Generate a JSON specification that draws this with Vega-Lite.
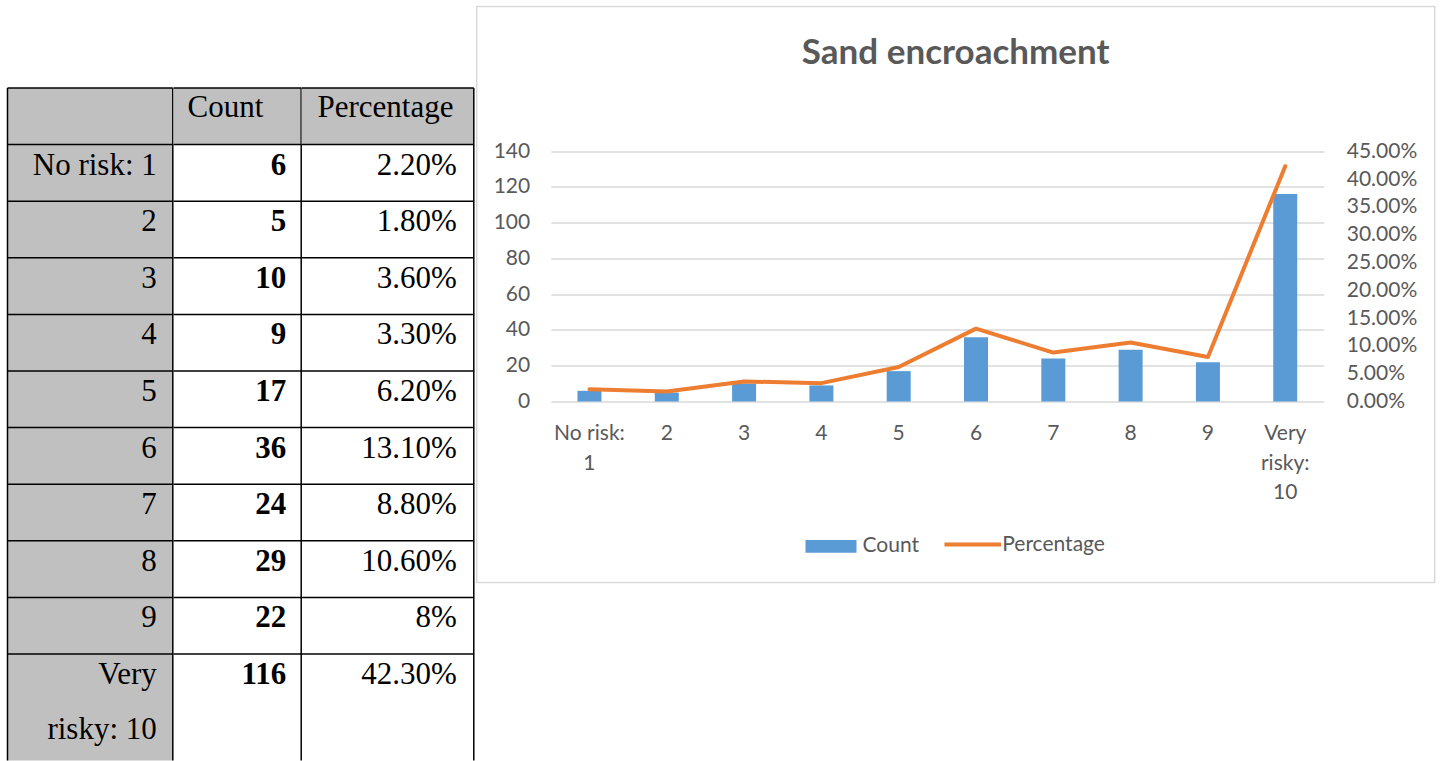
{
  "$schema": "https://vega.github.io/schema/vega-lite/v6.json",
  "padding": {"left": 6.5, "top": 5.5, "right": 0, "bottom": 0},
  "config": {"view": {"stroke": null}},
  "datasets": {
    "rows": [
      {"level": "No risk: 1", "count": 6, "pct": 2.2, "pctText": "2.20%"},
      {"level": "2", "count": 5, "pct": 1.8, "pctText": "1.80%"},
      {"level": "3", "count": 10, "pct": 3.6, "pctText": "3.60%"},
      {"level": "4", "count": 9, "pct": 3.3, "pctText": "3.30%"},
      {"level": "5", "count": 17, "pct": 6.2, "pctText": "6.20%"},
      {"level": "6", "count": 36, "pct": 13.1, "pctText": "13.10%"},
      {"level": "7", "count": 24, "pct": 8.8, "pctText": "8.80%"},
      {"level": "8", "count": 29, "pct": 10.6, "pctText": "10.60%"},
      {"level": "9", "count": 22, "pct": 8.0, "pctText": "8%"},
      {"level": "Very risky: 10", "count": 116, "pct": 42.3, "pctText": "42.30%"}
    ],
    "one": [{}]
  },
  "spacing": 0.2,
  "bounds": "full",
  "hconcat": [
    {
      "spacing": 0,
      "bounds": "flush",
      "hconcat": [
        {
          "width": 165.3,
          "height": 754,
          "view": {"stroke": null},
          "data": {"name": "rows"},
          "layer": [
            {
              "data": {"name": "one"},
              "mark": {"type": "rect", "color": "#c0c0c0"},
              "encoding": {
                "x": {"value": 0},
                "x2": {"value": "width"},
                "y": {"datum": "header", "type": "nominal", "bandPosition": 0,
                  "scale": {"type": "band", "domain": ["_top", "header", "No risk: 1", "2", "3", "4", "5", "6", "7", "8", "9", "Very risky: 10"], "paddingInner": 0, "paddingOuter": 0.661, "align": 0.3329},
                  "axis": null},
                "y2": {"value": "height"}
              }
            },
            {
              "mark": {"type": "rule", "color": "black", "strokeWidth": 1.5},
              "encoding": {"y": {"field": "level", "type": "nominal", "bandPosition": 0, "axis": null}}
            },
            {
              "data": {"name": "one"},
              "mark": {"type": "rule", "color": "black", "strokeWidth": 1.5},
              "encoding": {"y": {"datum": "header", "type": "nominal", "bandPosition": 0, "axis": null}}
            },
            {
              "data": {"name": "one"},
              "mark": {"type": "rule", "color": "black", "strokeWidth": 1.5},
              "encoding": {
                "x": {"value": 0},
                "y": {"datum": "header", "type": "nominal", "bandPosition": 0, "axis": null},
                "y2": {"value": "height"}
              }
            },
            {
              "data": {"name": "one"},
              "mark": {"type": "rule", "color": "black", "strokeWidth": 1.5},
              "encoding": {
                "x": {"value": "width"},
                "y": {"datum": "header", "type": "nominal", "bandPosition": 0, "axis": null},
                "y2": {"value": "height"}
              }
            },
            {
              "mark": {"type": "text", "font": "Liberation Serif", "fontSize": 31, "color": "black", "align": "right", "baseline": "alphabetic", "dx": -16, "dy": 30, "lineHeight": 55},
              "encoding": {
                "x": {"value": "width"},
                "y": {"field": "level", "type": "nominal", "bandPosition": 0, "axis": null},
                "text": {"condition": {"test": "datum.level == 'Very risky: 10'", "value": ["Very", "risky: 10"]}, "field": "level"}
              }
            }
          ]
        },
        {
          "width": 127.7,
          "height": 754,
          "view": {"stroke": null},
          "data": {"name": "rows"},
          "layer": [
            {
              "data": {"name": "one"},
              "mark": {"type": "rect", "color": "#c0c0c0"},
              "encoding": {
                "x": {"value": 0},
                "x2": {"value": "width"},
                "y": {"datum": "header", "type": "nominal",
                  "scale": {"type": "band", "domain": ["_top", "header", "No risk: 1", "2", "3", "4", "5", "6", "7", "8", "9", "Very risky: 10"], "paddingInner": 0, "paddingOuter": 0.661, "align": 0.3329},
                  "axis": null}
              }
            },
            {
              "mark": {"type": "rule", "color": "black", "strokeWidth": 1.5},
              "encoding": {"y": {"field": "level", "type": "nominal", "bandPosition": 0, "axis": null}}
            },
            {
              "data": {"name": "one"},
              "mark": {"type": "rule", "color": "black", "strokeWidth": 1.5},
              "encoding": {"y": {"datum": "header", "type": "nominal", "bandPosition": 0, "axis": null}}
            },
            {
              "data": {"name": "one"},
              "mark": {"type": "rule", "color": "black", "strokeWidth": 1.5},
              "encoding": {
                "x": {"value": "width"},
                "y": {"datum": "header", "type": "nominal", "bandPosition": 0, "axis": null},
                "y2": {"value": "height"}
              }
            },
            {
              "data": {"name": "one"},
              "mark": {"type": "text", "font": "Liberation Serif", "fontSize": 31, "color": "black", "align": "left", "baseline": "alphabetic", "dx": 14, "dy": 29},
              "encoding": {
                "x": {"value": 0},
                "y": {"datum": "header", "type": "nominal", "bandPosition": 0, "axis": null},
                "text": {"value": "Count"}
              }
            },
            {
              "mark": {"type": "text", "font": "Liberation Serif", "fontSize": 31, "fontWeight": "bold", "color": "black", "align": "right", "baseline": "alphabetic", "dx": -15, "dy": 30},
              "encoding": {
                "x": {"value": "width"},
                "y": {"field": "level", "type": "nominal", "bandPosition": 0, "axis": null},
                "text": {"field": "count", "type": "quantitative"}
              }
            }
          ]
        },
        {
          "width": 172.3,
          "height": 754,
          "view": {"stroke": null},
          "data": {"name": "rows"},
          "layer": [
            {
              "data": {"name": "one"},
              "mark": {"type": "rect", "color": "#c0c0c0"},
              "encoding": {
                "x": {"value": 0},
                "x2": {"value": "width"},
                "y": {"datum": "header", "type": "nominal",
                  "scale": {"type": "band", "domain": ["_top", "header", "No risk: 1", "2", "3", "4", "5", "6", "7", "8", "9", "Very risky: 10"], "paddingInner": 0, "paddingOuter": 0.661, "align": 0.3329},
                  "axis": null}
              }
            },
            {
              "mark": {"type": "rule", "color": "black", "strokeWidth": 1.5},
              "encoding": {"y": {"field": "level", "type": "nominal", "bandPosition": 0, "axis": null}}
            },
            {
              "data": {"name": "one"},
              "mark": {"type": "rule", "color": "black", "strokeWidth": 1.5},
              "encoding": {"y": {"datum": "header", "type": "nominal", "bandPosition": 0, "axis": null}}
            },
            {
              "data": {"name": "one"},
              "mark": {"type": "rule", "color": "black", "strokeWidth": 1.5},
              "encoding": {
                "x": {"value": "width"},
                "y": {"datum": "header", "type": "nominal", "bandPosition": 0, "axis": null},
                "y2": {"value": "height"}
              }
            },
            {
              "data": {"name": "one"},
              "mark": {"type": "text", "font": "Liberation Serif", "fontSize": 31, "color": "black", "align": "left", "baseline": "alphabetic", "dx": 16, "dy": 29},
              "encoding": {
                "x": {"value": 0},
                "y": {"datum": "header", "type": "nominal", "bandPosition": 0, "axis": null},
                "text": {"value": "Percentage"}
              }
            },
            {
              "mark": {"type": "text", "font": "Liberation Serif", "fontSize": 31, "color": "black", "align": "right", "baseline": "alphabetic", "dx": -17, "dy": 30},
              "encoding": {
                "x": {"value": "width"},
                "y": {"field": "level", "type": "nominal", "bandPosition": 0, "axis": null},
                "text": {"field": "pctText", "type": "nominal"}
              }
            }
          ]
        }
      ]
    },
    {
      "width": 958,
      "height": 576,
      "view": {"stroke": "#d9d9d9", "strokeWidth": 1.5},
      "title": {"text": "Sand encroachment", "font": "Lato", "fontSize": 35, "fontWeight": "bold", "color": "#595959", "anchor": "middle", "frame": "group", "baseline": "alphabetic", "offset": -92},
      "data": {"name": "rows"},
      "encoding": {
        "x": {
          "field": "level", "type": "nominal", "sort": null,
          "scale": {"domain": ["No risk: 1", "2", "3", "4", "5", "6", "7", "8", "9", "Very risky: 10"], "paddingInner": 0, "paddingOuter": 0, "range": [74.1, 847.2]},
          "axis": {"orient": "bottom", "offset": -181, "domain": false, "ticks": false, "tickSize": 0, "labelPadding": 38, "labelBaseline": "alphabetic", "labelLineHeight": 29.5, "labelAngle": 0, "labelOverlap": false, "labelExpr": "datum.value == 'No risk: 1' ? ['No risk:', '1'] : split(datum.value, ' ')", "labelFont": "Lato", "labelFontSize": 21, "labelColor": "#595959", "title": null}
        }
      },
      "layer": [
        {
          "mark": {"type": "bar", "size": 24},
          "encoding": {
            "y": {
              "field": "count", "type": "quantitative",
              "scale": {"domain": [0, 140], "range": [395, 144.7], "nice": false},
              "axis": {"orient": "left", "values": [0, 20, 40, 60, 80, 100, 120, 140], "grid": true, "gridColor": "#d9d9d9", "gridWidth": 1.5, "domain": false, "ticks": false, "tickSize": 0, "labelPadding": 0, "offset": -53, "title": null, "labelFont": "Lato", "labelFontSize": 21, "labelColor": "#595959"}
            },
            "color": {
              "datum": "Count", "type": "nominal",
              "scale": {"range": ["#5b9bd5"]},
              "legend": {"orient": "none", "legendX": 798, "legendY": 514.25, "title": null, "symbolType": "M-1,-0.25H1V0.25H-1Z", "symbolSize": 2601, "symbolStrokeWidth": 0, "labelFont": "Lato", "labelFontSize": 21, "labelColor": "#595959", "labelOffset": 6}
            }
          }
        },
        {
          "mark": {"type": "line", "strokeWidth": 4, "strokeCap": "round", "strokeJoin": "round"},
          "encoding": {
            "y": {
              "field": "pct", "type": "quantitative",
              "scale": {"domain": [0, 45], "range": [395, 144.7], "nice": false},
              "axis": {"orient": "right", "values": [0, 5, 10, 15, 20, 25, 30, 35, 40, 45], "grid": false, "domain": false, "ticks": false, "tickSize": 0, "labelPadding": 0, "offset": -88.5, "title": null, "labelExpr": "format(datum.value, '.2f') + '%'", "labelFont": "Lato", "labelFontSize": 21, "labelColor": "#595959"}
            },
            "stroke": {
              "datum": "Percentage", "type": "nominal",
              "scale": {"range": ["#ed7d31"]},
              "legend": {"orient": "none", "legendX": 934.75, "legendY": 507.55, "title": null, "symbolType": "stroke", "symbolSize": 3200, "symbolStrokeWidth": 4, "labelFont": "Lato", "labelFontSize": 21, "labelColor": "#595959", "labelOffset": -1}
            }
          }
        }
      ],
      "resolve": {"scale": {"y": "independent"}}
    }
  ]
}
